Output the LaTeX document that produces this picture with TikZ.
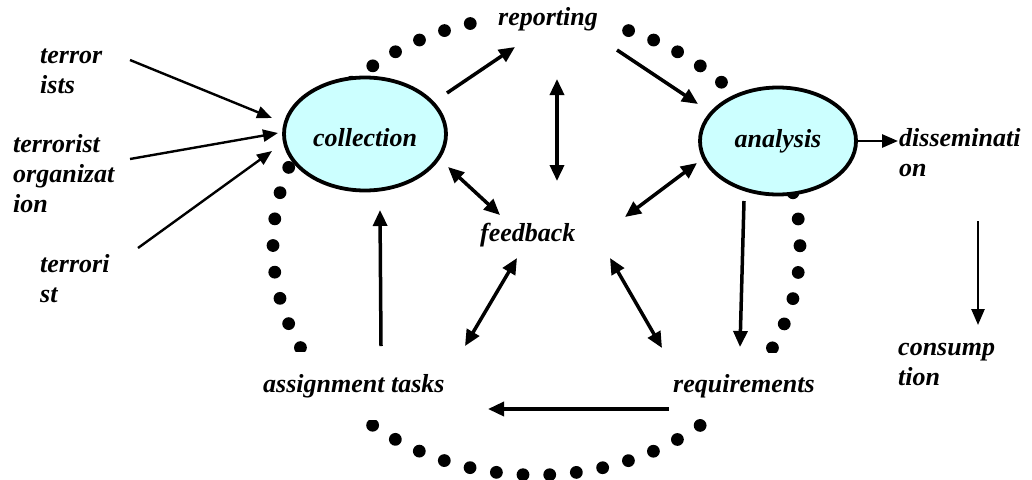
\documentclass[tikz,border=0pt]{standalone}
\usepackage{fontspec}
\setmainfont{Liberation Serif}
\usetikzlibrary{arrows.meta,shapes.geometric,calc}
\definecolor{bubble}{HTML}{CCFFFF}
\newcommand{\lblfont}{\fontsize{26}{30}\selectfont\bfseries\itshape}
\newcommand{\lines}[1]{\begin{tabular}[t]{@{}l@{}}#1\end{tabular}}
\begin{document}
\begin{tikzpicture}[x=1pt,y=-1pt,
  lab/.style={font=\lblfont, inner sep=0pt, anchor=base west},
  cover/.style={fill=white},
  bub/.style={ellipse, draw, line width=3.8pt, fill=bubble, font=\lblfont, inner sep=0pt},
  arr/.style={line width=3.5pt, -{Triangle[length=16pt,width=14pt]}},
  darr/.style={line width=3.5pt, {Triangle[length=16pt,width=14pt]}-{Triangle[length=16pt,width=14pt]}},
  thinarr/.style={line width=2.4pt, -{Triangle[length=15pt,width=12pt]}},
  dots/.style={line width=12.8pt, line cap=round, dash pattern=on 0pt off 26.73pt}]
\useasboundingbox (0,0) rectangle (1032,479);
% dotted cycle
\draw[dots] (536.5,245.6) ellipse [x radius=263.5pt, y radius=229.4pt];
% nodes
\node[bub, minimum width=162pt, minimum height=113pt, text height=26pt] (coll) at (365,134) {collection};
\node[bub, minimum width=156pt, minimum height=107pt] (ana) at (778,141) {analysis};
\node[lab, cover, inner xsep=20pt, inner ysep=13pt] (rep) at (478,25) {reporting};
\node[lab] (fb) at (480,241) {feedback};
\node[lab, cover, inner xsep=1pt, inner ysep=22pt] (asg) at (262,392) {assignment tasks};
\node[lab, cover, inner xsep=3pt, inner ysep=21pt] (req) at (670,392) {requirements};
\node[lab] (t1) at (40,63) {\lines{terror\\ists}};
\node[lab] (t2) at (13,152) {\lines{terrorist\\organizat\\ion}};
\node[lab] (t3) at (40,272) {\lines{terrori\\st}};
\node[lab] (dis) at (899,146) {\lines{disseminati\\on}};
\node[lab] (con) at (898,355) {\lines{consump\\tion}};
% connectors
\draw[thinarr] ($(t1.base west)+(90,-3)$) -- ($(coll)+(-93,-16)$);
\draw[thinarr] ($(t2.base west)+(117,7)$) -- ($(coll)+(-87,-1)$);
\draw[thinarr] ($(t3.base west)+(98,-24)$) -- ($(coll)+(-93,17)$);
\draw[arr] ($(coll)+(82,-41)$) -- ($(rep.base west)+(37,22)$);
\draw[arr] ($(rep.base west)+(139,25)$) -- ($(ana)+(-80,-37)$);
\draw[darr] ($(rep.base west)+(79,54)$) -- ($(fb.base west)+(77,-60)$);
\draw[darr] ($(coll)+(83,33)$) -- ($(fb.base west)+(20,-26)$);
\draw[darr] ($(ana)+(-81,22)$) -- ($(fb.base west)+(145,-24)$);
\draw[arr] ($(ana)+(-34,60)$) -- ($(req.base west)+(70,-45)$);
\draw[arr] ($(asg.base west)+(119,-46)$) -- ($(coll)+(15,76)$);
\draw[darr] ($(fb.base west)+(37,17)$) -- ($(asg.base west)+(203,-46)$);
\draw[darr] ($(fb.base west)+(130,17)$) -- ($(req.base west)+(-8,-44)$);
\draw[arr] ($(req.base west)+(-1,17)$) -- ($(asg.base west)+(226,17)$);
\draw[line width=2.8pt, -{Triangle[length=16pt,width=13pt]}] ($(ana)+(79,0)$) -- ($(dis.base west)+(-1,-5)$);
\draw[line width=2.6pt, -{Triangle[length=16pt,width=13pt]}] ($(dis.base west)+(79,75)$) -- ($(con.base west)+(80,-30)$);
\end{tikzpicture}
\end{document}
